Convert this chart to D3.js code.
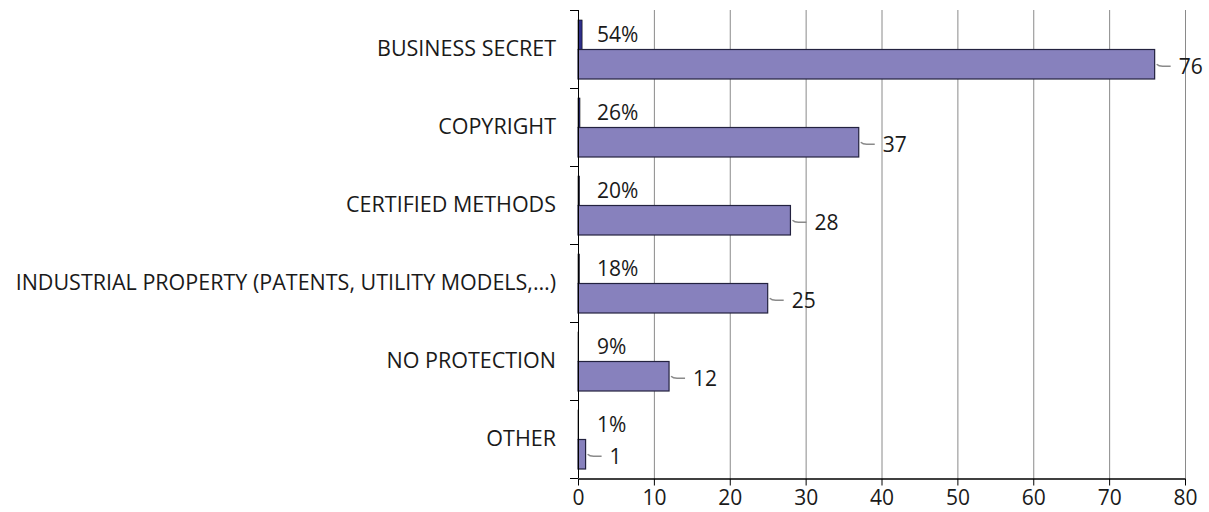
<!DOCTYPE html>
<html>
<head>
<meta charset="utf-8">
<script src="https://cdn.jsdelivr.net/npm/d3@7"></script>
<style>
    body { margin: 0; background: #ffffff; }
    svg text { font-family: 'Open Sans', 'Noto Sans', sans-serif; fill: #1a1a1a; }
</style>
</head>
<body>
<svg id="chart"></svg>
<script>
'use strict';

/*
    Data
*/

const CATEGORIES = [
    'BUSINESS SECRET',
    'COPYRIGHT',
    'CERTIFIED METHODS',
    'INDUSTRIAL PROPERTY (PATENTS, UTILITY MODELS,…)',
    'NO PROTECTION',
    'OTHER'
];

const COUNTS   = [76, 37, 28, 25, 12, 1];
const SHARES   = [0.54, 0.26, 0.20, 0.18, 0.09, 0.01];
const X_TICKS  = [0, 10, 20, 30, 40, 50, 60, 70, 80];

/*
    Constants
*/

const CHART = d3.select('#chart');

const DIMENSIONS = Object.freeze({
    WIDTH  : 1209,
    HEIGHT : 512
});

const MARGINS = Object.freeze({
    TOP    : 10,
    BOTTOM : 34,
    LEFT   : 578,
    RIGHT  : 24
});

const PLOT = Object.freeze({
    WIDTH  : DIMENSIONS.WIDTH  - MARGINS.LEFT - MARGINS.RIGHT,
    HEIGHT : DIMENSIONS.HEIGHT - MARGINS.TOP  - MARGINS.BOTTOM
});

const FONT_SIZE = 21;

const COLORS = Object.freeze({
    BAR        : '#8781bd',
    BAR_STROKE : '#23223f',
    SHARE      : '#2f2f8a',
    GRID       : '#8a8a8a',
    AXIS       : '#000000',
    LEADER     : '#8a8a8a'
});

const ROWS = CATEGORIES.map((name, i) => ({
    name  : name,
    count : COUNTS[i],
    share : SHARES[i]
}));

/*
    Scales
*/

let x = d3.scaleLinear()
              .domain([0, 80])
              .range([0, PLOT.WIDTH]);

let y = d3.scaleBand()
              .domain(CATEGORIES)
              .range([0, PLOT.HEIGHT]);

let ySub = d3.scaleBand()
                 .domain(['share', 'count'])
                 .range([10, y.bandwidth() - 9]);

/*
    D3 code
*/

CHART.attr('width', DIMENSIONS.WIDTH)
     .attr('height', DIMENSIONS.HEIGHT);

const G = CHART.append('g')
               .attr('transform', `translate(${MARGINS.LEFT},${MARGINS.TOP})`);

// Vertical grid lines
G.append('g')
   .selectAll('line')
   .data(X_TICKS.slice(1))
   .join('line')
     .attr('x1', d => x(d) + 0.5)
     .attr('x2', d => x(d) + 0.5)
     .attr('y1', 0)
     .attr('y2', PLOT.HEIGHT)
     .attr('stroke', COLORS.GRID)
     .attr('stroke-width', 1);

// Share bars (thin)
G.append('g')
   .selectAll('rect')
   .data(ROWS)
   .join('rect')
     .attr('x', 0)
     .attr('y', d => y(d.name) + ySub('share'))
     .attr('width', d => x(d.share))
     .attr('height', ySub.bandwidth())
     .attr('fill', COLORS.SHARE)
     .attr('stroke', '#000')
     .attr('stroke-width', 0.6);

// Count bars
G.append('g')
   .selectAll('rect')
   .data(ROWS)
   .join('rect')
     .attr('x', 0)
     .attr('y', d => y(d.name) + ySub('count'))
     .attr('width', d => x(d.count))
     .attr('height', ySub.bandwidth())
     .attr('fill', COLORS.BAR)
     .attr('stroke', COLORS.BAR_STROKE)
     .attr('stroke-width', 1.2);

// Share labels
G.append('g')
   .selectAll('text')
   .data(ROWS)
   .join('text')
     .attr('x', 19)
     .attr('y', d => y(d.name) + ySub('share') + ySub.bandwidth() / 2)
     .attr('dy', '0.36em')
     .attr('font-size', FONT_SIZE)
     .text(d => `${Math.round(d.share * 100)}%`);

// Leader lines + count labels
const LABELS = G.append('g')
                .selectAll('g')
                .data(ROWS)
                .join('g')
                  .attr('transform', d =>
                      `translate(${x(d.count)},${y(d.name) + ySub('count') + ySub.bandwidth() / 2 + 2})`);

LABELS.append('path')
      .attr('d', 'M2,-2 Q4,0 8,0 L16,0')
      .attr('fill', 'none')
      .attr('stroke', COLORS.LEADER)
      .attr('stroke-width', 1.3);

LABELS.append('text')
      .attr('x', 24)
      .attr('dy', '0.36em')
      .attr('font-size', FONT_SIZE)
      .text(d => d.count);

// Left axis (categories)
G.append('g')
   .call(d3.axisLeft(y).tickSize(0).tickPadding(22).tickFormat(d => d))
   .call(g => g.select('.domain').remove())
   .call(g => g.selectAll('text')
                  .attr('font-size', FONT_SIZE + 0.5)
                  .attr('fill', '#1a1a1a')
                  .attr('font-family', null));

G.append('g')
   .selectAll('line')
   .data(d3.range(CATEGORIES.length + 1))
   .join('line')
     .attr('x1', -8)
     .attr('x2', 0)
     .attr('y1', i => Math.round(i * y.step()) + 0.5)
     .attr('y2', i => Math.round(i * y.step()) + 0.5)
     .attr('stroke', COLORS.AXIS);

G.append('line')
   .attr('x1', 0.5)
   .attr('x2', 0.5)
   .attr('y1', 0)
   .attr('y2', PLOT.HEIGHT)
   .attr('stroke', COLORS.AXIS);

// Bottom axis
G.append('g')
   .attr('transform', `translate(0,${PLOT.HEIGHT + 0.5})`)
   .call(d3.axisBottom(x).tickValues(X_TICKS).tickSize(7).tickPadding(5).tickSizeOuter(0))
   .call(g => g.select('.domain').attr('stroke', COLORS.AXIS).attr('stroke-width', 1.3))
   .call(g => g.selectAll('.tick line').attr('stroke', COLORS.AXIS))
   .call(g => g.selectAll('text')
                  .attr('font-size', FONT_SIZE)
                  .attr('fill', '#1a1a1a')
                  .attr('font-family', null));
</script>
</body>
</html>
